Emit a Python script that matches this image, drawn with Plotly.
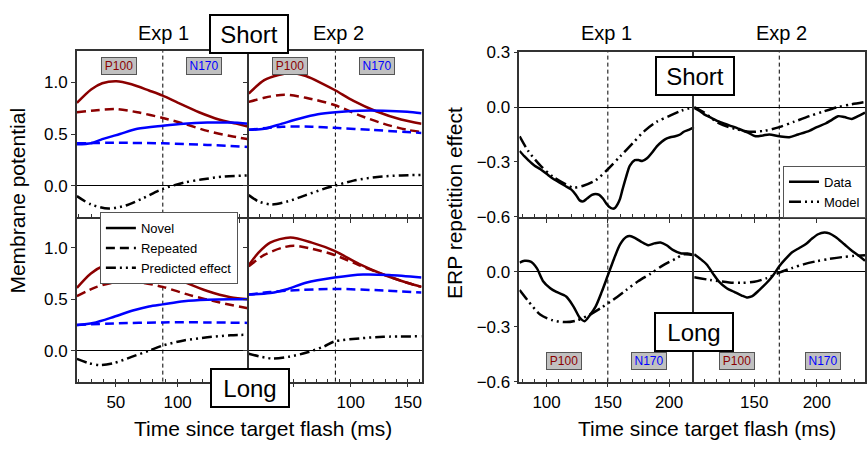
import plotly.graph_objects as go

# ---------------- DATA ----------------
# Left panel: membrane potential model (time in ms)
# Exp 1, Short
e1s_nov_p100_t = [18.5, 30, 39, 50.5, 62.7, 76.8, 88, 100.4, 117.3, 133.3, 147.4, 157.5]
e1s_nov_p100_v = [0.80, 0.93, 0.99, 1.01, 0.98, 0.92, 0.87, 0.80, 0.71, 0.64, 0.60, 0.57]
e1s_rep_p100_t = [18.5, 34.5, 50.5, 67.4, 88, 105, 124, 142.7, 157.5]
e1s_rep_p100_v = [0.71, 0.73, 0.74, 0.71, 0.655, 0.60, 0.53, 0.48, 0.45]
e1s_nov_n170_t = [18.5, 30, 39, 53.3, 67.4, 88, 105, 124, 142.7, 157.5]
e1s_nov_n170_v = [0.40, 0.41, 0.45, 0.50, 0.55, 0.58, 0.60, 0.61, 0.61, 0.60]
e1s_rep_n170_t = [18.5, 48.6, 88, 124, 157.5]
e1s_rep_n170_v = [0.41, 0.415, 0.41, 0.395, 0.375]
e1s_pred_t = [18.5, 29.8, 43.9, 58, 72, 88, 105, 119, 138, 157.5]
e1s_pred_v = [-0.10, -0.18, -0.22, -0.19, -0.12, -0.03, 0.03, 0.06, 0.09, 0.10]

# Exp 1, Long
e1l_nov_p100_t = [18.5, 29.8, 41.1, 54.3, 67.4, 88, 105, 124, 142.7, 157.5]
e1l_nov_p100_v = [0.61, 0.75, 0.83, 0.865, 0.85, 0.76, 0.67, 0.58, 0.52, 0.50]
e1l_rep_p100_t = [18.5, 34.5, 58, 72, 88, 109.8, 133.3, 157.5]
e1l_rep_p100_v = [0.53, 0.62, 0.68, 0.66, 0.62, 0.54, 0.47, 0.41]
e1l_nov_n170_t = [18.5, 31.7, 48.6, 63.7, 76.8, 88, 105, 124, 142.7, 157.5]
e1l_nov_n170_v = [0.25, 0.27, 0.33, 0.39, 0.43, 0.45, 0.48, 0.495, 0.50, 0.50]
e1l_rep_n170_t = [18.5, 48.6, 88, 124, 157.5]
e1l_rep_n170_v = [0.25, 0.265, 0.275, 0.275, 0.27]
e1l_pred_t = [18.5, 27.9, 37.3, 48.6, 62.7, 76.8, 88, 105, 124, 142.7, 157.5]
e1l_pred_v = [-0.08, -0.12, -0.14, -0.12, -0.06, 0.0, 0.05, 0.10, 0.13, 0.15, 0.155]

# Exp 2, Short
e2s_nov_p100_t = [10.5, 24.1, 36.6, 47, 60.6, 76.3, 86.7, 102.4, 122.2, 144.1, 162]
e2s_nov_p100_v = [0.89, 1.02, 1.07, 1.09, 1.06, 0.98, 0.92, 0.82, 0.72, 0.64, 0.60]
e2s_rep_p100_t = [10.5, 24.1, 41.8, 60.6, 85.7, 107.6, 128.5, 149.4, 162]
e2s_rep_p100_v = [0.81, 0.85, 0.88, 0.85, 0.78, 0.68, 0.60, 0.54, 0.52]
e2s_nov_n170_t = [10.5, 24.1, 39.7, 55.4, 71.1, 86.7, 107.6, 128.5, 149.4, 162]
e2s_nov_n170_v = [0.54, 0.55, 0.60, 0.65, 0.69, 0.71, 0.725, 0.725, 0.715, 0.70]
e2s_rep_n170_t = [10.5, 39.7, 65.8, 85.7, 118, 162]
e2s_rep_n170_v = [0.54, 0.57, 0.57, 0.56, 0.54, 0.51]
e2s_pred_t = [10.5, 18.9, 30.3, 45, 60.6, 76.3, 85.7, 102.4, 123.3, 144.1, 162]
e2s_pred_v = [-0.09, -0.15, -0.18, -0.15, -0.09, -0.03, 0.0, 0.05, 0.085, 0.10, 0.105]

# Exp 2, Long
e2l_nov_p100_t = [10.5, 18.9, 29.3, 47, 65.8, 85.7, 107.6, 128.5, 149.4, 162]
e2l_nov_p100_v = [0.83, 0.95, 1.05, 1.10, 1.05, 0.97, 0.84, 0.74, 0.66, 0.62]
e2l_rep_p100_t = [10.5, 24.1, 39.7, 50.2, 65.8, 85.7, 107.6, 128.5, 149.4, 162]
e2l_rep_p100_v = [0.82, 0.93, 1.00, 1.02, 0.99, 0.93, 0.83, 0.74, 0.66, 0.62]
e2l_nov_n170_t = [10.5, 29.3, 45, 60.6, 85.7, 110.7, 133.7, 162]
e2l_nov_n170_v = [0.545, 0.56, 0.60, 0.66, 0.71, 0.74, 0.735, 0.71]
e2l_rep_n170_t = [10.5, 29.3, 47, 85.7, 128.5, 162]
e2l_rep_n170_v = [0.545, 0.57, 0.585, 0.60, 0.585, 0.565]
e2l_pred_t = [10.5, 30.3, 45, 60.6, 76.3, 85.7, 107.6, 128.5, 162]
e2l_pred_v = [-0.03, -0.075, -0.06, -0.02, 0.04, 0.09, 0.12, 0.135, 0.14]

# Right panel: ERP repetition effect
erp_e1s_data_t = [78, 82, 85, 90, 95, 100, 105, 110, 115, 120, 124, 127, 130, 133, 137, 140, 143, 146, 149, 151, 154, 156, 158, 160, 162, 165, 168, 172, 175, 178, 182, 186, 190, 194, 197, 201, 205, 209, 212, 216, 220.5]
erp_e1s_data_v = [-0.24, -0.27, -0.29, -0.32, -0.34, -0.365, -0.39, -0.41, -0.43, -0.45, -0.48, -0.51, -0.515, -0.50, -0.48, -0.475, -0.48, -0.50, -0.53, -0.545, -0.555, -0.55, -0.53, -0.50, -0.45, -0.38, -0.32, -0.29, -0.29, -0.295, -0.28, -0.25, -0.215, -0.19, -0.175, -0.165, -0.16, -0.15, -0.135, -0.125, -0.11]
erp_e1s_model_t = [78, 85, 95, 105, 115, 122, 130, 140, 150, 160, 170, 180, 190, 200, 210, 220.5]
erp_e1s_model_v = [-0.16, -0.24, -0.32, -0.38, -0.42, -0.44, -0.43, -0.40, -0.34, -0.27, -0.20, -0.13, -0.08, -0.05, -0.02, 0.0]

erp_e2s_data_t = [102, 106, 110, 116, 122, 130, 138, 145, 151, 157, 162, 170, 178, 185, 194, 200, 207, 212, 217, 222, 228, 233, 238.5]
erp_e2s_data_v = [-0.005, -0.02, -0.04, -0.06, -0.08, -0.10, -0.12, -0.14, -0.16, -0.155, -0.15, -0.16, -0.165, -0.15, -0.13, -0.11, -0.09, -0.07, -0.05, -0.055, -0.065, -0.05, -0.03]
erp_e2s_model_t = [102, 110, 122, 135, 146, 158, 170, 182, 194, 205, 217, 228, 238.5]
erp_e2s_model_v = [0.0, -0.03, -0.09, -0.12, -0.135, -0.13, -0.11, -0.08, -0.05, -0.025, 0.0, 0.015, 0.027]

erp_e1l_data_t = [78, 82, 87, 92, 97, 103, 108, 116, 122, 127, 131, 135, 140, 145, 150, 155, 160, 165, 168, 172, 177, 183, 188, 193, 198, 203, 210, 215, 220.5]
erp_e1l_data_v = [0.05, 0.06, 0.055, 0.02, -0.05, -0.09, -0.11, -0.135, -0.19, -0.25, -0.27, -0.24, -0.19, -0.11, -0.02, 0.07, 0.15, 0.19, 0.195, 0.185, 0.165, 0.145, 0.155, 0.16, 0.145, 0.12, 0.10, 0.10, 0.09]
erp_e1l_model_t = [78, 85, 95, 105, 116, 125, 135, 145, 155, 165, 175, 185, 195, 205, 212, 220.5]
erp_e1l_model_v = [-0.10, -0.16, -0.235, -0.265, -0.275, -0.265, -0.235, -0.195, -0.15, -0.10, -0.05, -0.01, 0.035, 0.07, 0.095, 0.09]

erp_e2l_data_t = [102, 107, 112, 117, 122, 128, 134, 140, 144, 148, 154, 160, 165, 170, 175, 180, 186, 191, 196, 201, 206, 210, 215, 222, 228, 233, 238.5]
erp_e2l_data_v = [0.095, 0.07, 0.04, -0.01, -0.055, -0.09, -0.11, -0.13, -0.14, -0.135, -0.10, -0.06, -0.02, 0.03, 0.07, 0.105, 0.13, 0.15, 0.18, 0.205, 0.215, 0.21, 0.19, 0.15, 0.115, 0.09, 0.06]
erp_e2l_model_t = [102, 115, 130, 140, 150, 160, 170, 180, 190, 200, 210, 220, 230, 238.5]
erp_e2l_model_v = [-0.03, -0.045, -0.058, -0.06, -0.055, -0.035, -0.005, 0.02, 0.042, 0.058, 0.07, 0.08, 0.087, 0.09]

# Axis ranges / boundaries
left_exp1_range = [18.5, 157.5]
left_exp2_range = [10.5, 162]
left_exp1_boundary = 88
left_exp2_boundary = 86.5
mp_range = [-0.3, 1.3]
right_exp1_range = [77.8, 220.5]
right_exp2_range = [102, 238.5]
right_exp1_boundary = 150
right_exp2_boundary = 170
erp_range = [-0.6, 0.3]

# ---------------- STYLE ----------------
W, H = 867, 451
FONT = "Liberation Sans, Arial, sans-serif"
RED = "#8B0000"
BLUE = "#0000FF"
FRAME = "#333333"
DASH = "9px,5px"
DDOT = "10px,4px,2px,4px,2px,4px"


def fx(p):
    return p / W


def fy(p):
    return 1 - p / H


fig = go.Figure()

cells = {
    1: ((77, 249), (44, 217)),   # left panel, Exp1 Short
    2: ((249, 422), (44, 217)),  # Exp2 Short
    3: ((77, 249), (217, 389)),  # Exp1 Long
    4: ((249, 422), (217, 389)), # Exp2 Long
    5: ((520, 695), (45, 217)),  # right panel Exp1 Short
    6: ((695, 866), (45, 217)),
    7: ((520, 695), (217, 389)),
    8: ((695, 866), (217, 389)),
}
left_col = (1, 3, 5, 7)
top_row = (1, 2, 5, 6)


def ax(n, kind):
    return kind if n == 1 else f"{kind}{n}"


def add_line(n, t, v, color, dash, width=2.5, name=None, legend=None, show=False):
    fig.add_trace(go.Scatter(
        x=t, y=v, mode="lines", xaxis=ax(n, "x"), yaxis=ax(n, "y"),
        line=dict(color=color, dash=dash, width=width, shape="spline", smoothing=0.8),
        showlegend=show, name=name, legend=legend, hoverinfo="skip"))


membrane = {
    1: (e1s_nov_p100_t, e1s_nov_p100_v, e1s_rep_p100_t, e1s_rep_p100_v,
        e1s_nov_n170_t, e1s_nov_n170_v, e1s_rep_n170_t, e1s_rep_n170_v, e1s_pred_t, e1s_pred_v),
    2: (e2s_nov_p100_t, e2s_nov_p100_v, e2s_rep_p100_t, e2s_rep_p100_v,
        e2s_nov_n170_t, e2s_nov_n170_v, e2s_rep_n170_t, e2s_rep_n170_v, e2s_pred_t, e2s_pred_v),
    3: (e1l_nov_p100_t, e1l_nov_p100_v, e1l_rep_p100_t, e1l_rep_p100_v,
        e1l_nov_n170_t, e1l_nov_n170_v, e1l_rep_n170_t, e1l_rep_n170_v, e1l_pred_t, e1l_pred_v),
    4: (e2l_nov_p100_t, e2l_nov_p100_v, e2l_rep_p100_t, e2l_rep_p100_v,
        e2l_nov_n170_t, e2l_nov_n170_v, e2l_rep_n170_t, e2l_rep_n170_v, e2l_pred_t, e2l_pred_v),
}
for n, d in membrane.items():
    add_line(n, d[0], d[1], RED, "solid")
    add_line(n, d[2], d[3], RED, DASH)
    add_line(n, d[4], d[5], BLUE, "solid")
    add_line(n, d[6], d[7], BLUE, DASH)
    add_line(n, d[8], d[9], "black", DDOT)

# legend-only entries for the left panel
for nm, dsh in [("Novel", "solid"), ("Repeated", DASH), ("Predicted effect", DDOT)]:
    fig.add_trace(go.Scatter(x=[None], y=[None], mode="lines", xaxis="x", yaxis="y",
                             line=dict(color="black", dash=dsh, width=2.5),
                             name=nm, legend="legend", showlegend=True))

erp = {
    5: (erp_e1s_data_t, erp_e1s_data_v, erp_e1s_model_t, erp_e1s_model_v),
    6: (erp_e2s_data_t, erp_e2s_data_v, erp_e2s_model_t, erp_e2s_model_v),
    7: (erp_e1l_data_t, erp_e1l_data_v, erp_e1l_model_t, erp_e1l_model_v),
    8: (erp_e2l_data_t, erp_e2l_data_v, erp_e2l_model_t, erp_e2l_model_v),
}
for n, d in erp.items():
    first = (n == 6)
    add_line(n, d[0], d[1], "black", "solid", 2.5, "Data", "legend2", first)
    add_line(n, d[2], d[3], "black", "12px,4px,2px,4px,2px,4px", 2.5, "Model", "legend2", first)

# ---------------- AXES ----------------
layout = {}
xranges = {1: left_exp1_range, 2: left_exp2_range, 3: left_exp1_range, 4: left_exp2_range,
           5: right_exp1_range, 6: right_exp2_range, 7: right_exp1_range, 8: right_exp2_range}
xlabels = {3: [50, 100], 4: [100, 150], 7: [100, 150, 200], 8: [150, 200]}
for n, ((x0, x1), (y0, y1)) in cells.items():
    xa = dict(domain=[fx(x0), fx(x1)], anchor=ax(n, "y"), range=xranges[n],
              showline=True, mirror=(n in top_row), linecolor=FRAME, linewidth=1.5,
              showgrid=False, zeroline=False, ticks="outside", ticklen=4, tickcolor=FRAME,
              tickvals=[50, 100, 150, 200], showticklabels=n in xlabels,
              minor=dict(dtick=10, tick0=0, ticks="inside", ticklen=3, tickcolor=FRAME, showgrid=False),
              tickfont=dict(family=FONT, size=17, color="black"))
    if n in xlabels:
        xa["tickvals"] = [50, 100, 150, 200]
        xa["ticktext"] = [str(v) if v in xlabels[n] else "" for v in [50, 100, 150, 200]]
    if n <= 4:
        yv = [0.0, 0.5, 1.0]
        yt = ["0.0", "0.5", "1.0"]
        yr = mp_range
    else:
        yv = [0.3, 0.0, -0.3, -0.6] if n in (5, 6) else [0.0, -0.3, -0.6]
        yt = [("\u2212" if v < 0 else "") + f"{abs(v):.1f}" for v in yv]
        yr = erp_range
    ya = dict(domain=[fy(y1), fy(y0)], anchor=ax(n, "x"), range=yr,
              showline=True, mirror=(n not in left_col), linecolor=FRAME, linewidth=1.5,
              showgrid=False, zeroline=True, zerolinecolor="black", zerolinewidth=1,
              tickvals=yv, ticktext=yt, ticks="outside", ticklen=4, tickcolor=FRAME,
              showticklabels=n in left_col,
              tickfont=dict(family=FONT, size=17, color="black"))
    if n in (6, 8):
        ya["ticks"] = ""
    layout[("xaxis" if n == 1 else f"xaxis{n}")] = xa
    layout[("yaxis" if n == 1 else f"yaxis{n}")] = ya

# ---------------- SHAPES (boundaries) ----------------
shapes = []
for xref, xv, ytop in [("x", left_exp1_boundary, 44), ("x2", left_exp2_boundary, 44),
                       ("x5", right_exp1_boundary, 45), ("x6", right_exp2_boundary, 45)]:
    shapes.append(dict(type="line", xref=xref, yref="paper", x0=xv, x1=xv,
                       y0=fy(389), y1=fy(ytop), line=dict(color="black", width=1, dash="4px,3px"),
                       layer="below"))

# ---------------- ANNOTATIONS ----------------
ann = []


def text(x, y, s, size, angle=0):
    ann.append(dict(x=fx(x), y=fy(y), xref="paper", yref="paper", text=s, showarrow=False,
                    xanchor="center", yanchor="middle",
                    textangle=angle, font=dict(family=FONT, size=size, color="black")))


def boxed(x, y, s):
    ann.append(dict(x=fx(x), y=fy(y), xref="paper", yref="paper", text=s, showarrow=False,
                    xanchor="center", yanchor="middle",
                    font=dict(family=FONT, size=24, color="black"), bgcolor="white",
                    bordercolor="black", borderwidth=2, borderpad=1, width=74, height=34))


def erp_tag(x, y, s, color):
    ann.append(dict(x=fx(x), y=fy(y), xref="paper", yref="paper", text=s, showarrow=False,
                    xanchor="center", yanchor="middle",
                    font=dict(family=FONT, size=12, color=color), bgcolor="#c0c0c0",
                    bordercolor="#555555", borderwidth=1, borderpad=1, width=32, height=14))


text(164, 25, "Exp 1", 20)
text(339, 25, "Exp 2", 20)
text(607, 25, "Exp 1", 20)
text(782, 25, "Exp 2", 20)
text(18, 200, "Membrane potential", 21, -90)
text(455, 202, "ERP repetition effect", 21, -90)
text(263, 438, "Time since target flash (ms)", 21)
text(708, 438, "Time since target flash (ms)", 21)

for x, y, s, c in [(119.5, 60, "P100", RED), (204, 60, "N170", BLUE),
                   (290, 60, "P100", RED), (377, 60, "N170", BLUE),
                   (565, 367, "P100", RED), (650, 367, "N170", BLUE),
                   (738, 367, "P100", RED), (824, 367, "N170", BLUE)]:
    erp_tag(x, y, s, c)

boxed(249.5, 26, "Short")
boxed(250, 396, "Long")
boxed(696, 70, "Short")
boxed(694.5, 337, "Long")

fig.update_layout(
    width=W, height=H, margin=dict(l=0, r=0, t=0, b=0),
    paper_bgcolor="white", plot_bgcolor="white",
    font=dict(family=FONT, color="black"),
    shapes=shapes, annotations=ann,
    legend=dict(x=fx(100), y=fy(212), xanchor="left", yanchor="top",
                bgcolor="white", bordercolor="#555555", borderwidth=1,
                font=dict(family=FONT, size=13, color="black"),
                tracegroupgap=0, itemwidth=30),
    legend2=dict(x=1.0, y=fy(218), xanchor="right", yanchor="bottom",
                 bgcolor="white", bordercolor="#555555", borderwidth=1,
                 font=dict(family=FONT, size=13, color="black"),
                 tracegroupgap=0, itemwidth=30),
    **layout,
)

fig.write_html("out.html")
